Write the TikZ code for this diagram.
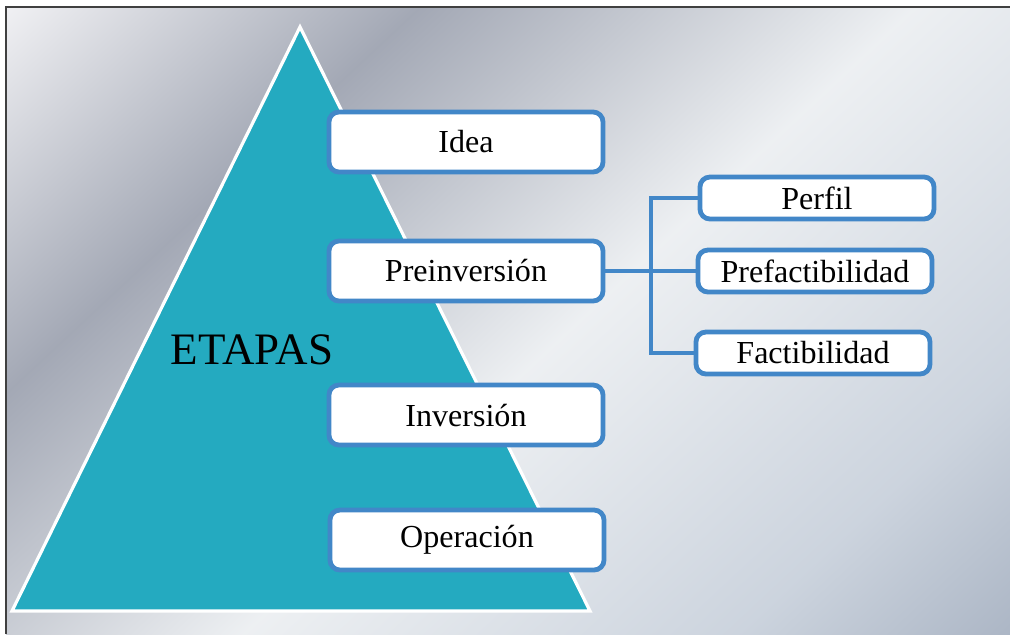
\documentclass[tikz,border=0pt]{standalone}
\usepackage{fontspec}
\setmainfont{Liberation Serif}
\usepackage{tikz}
\definecolor{pyramid}{RGB}{36,170,192}
\definecolor{boxline}{RGB}{66,135,200}
\pgfdeclarehorizontalshading{backdrop}{100bp}{rgb(0bp)=(0.97,0.97,0.97); rgb(14bp)=(0.95,0.95,0.96); rgb(32bp)=(0.64,0.66,0.71); rgb(53bp)=(0.93,0.94,0.95); rgb(74bp)=(0.80,0.83,0.87); rgb(86bp)=(0.67,0.71,0.77); rgb(100bp)=(0.67,0.71,0.77)}

\begin{document}
\begin{tikzpicture}[x=0.025cm, y=-0.025cm,
    etapa/.style = {shape=rectangle, rounded corners=0.25cm, draw=boxline, line width=0.12cm, fill=white, minimum width=6.85cm, minimum height=1.5cm, font=\fontsize{22.8}{26}\selectfont},
    fase/.style = {etapa, minimum width=5.85cm, minimum height=1.05cm},
    link/.style = {draw=boxline, line width=0.1cm}]
            \useasboundingbox (0,0) rectangle (1010,634);
            \fill[white] (0,0) rectangle (1010,634);
            \shade[shading=backdrop, shading angle=-47] (6,7) rectangle (1010,634);
            \draw[black!75, line width=0.04cm] (6,634) -- (6,7) -- (1010,7);
            \filldraw[fill=pyramid, draw=white, line width=0.08cm] (300,27) -- (590,611) -- (12,611) -- cycle;
            \node[font=\fontsize{32}{38}\selectfont] (etapas) at (252,350) {ETAPAS};
            \node[etapa] (idea) at (466,142) {Idea};
            \node[etapa] (pre) at (466,271) {Preinversión};
            \node[etapa] (inv) at (466,415) {Inversión};
            \node[etapa] (ope) at (467,540) {Operación};
            \node[fase] (perfil) at (817,198) {Perfil};
            \node[fase] (prefac) at (815,271) {Prefactibilidad};
            \node[fase] (fact) at (813,353) {Factibilidad};
            \coordinate (split) at (651,271);
            \draw[link] (pre.east) -- (split);
            \foreach \n in {perfil,prefac,fact}
                \draw[link] (split) |- (\n.west);
        \end{tikzpicture}
\end{document}
